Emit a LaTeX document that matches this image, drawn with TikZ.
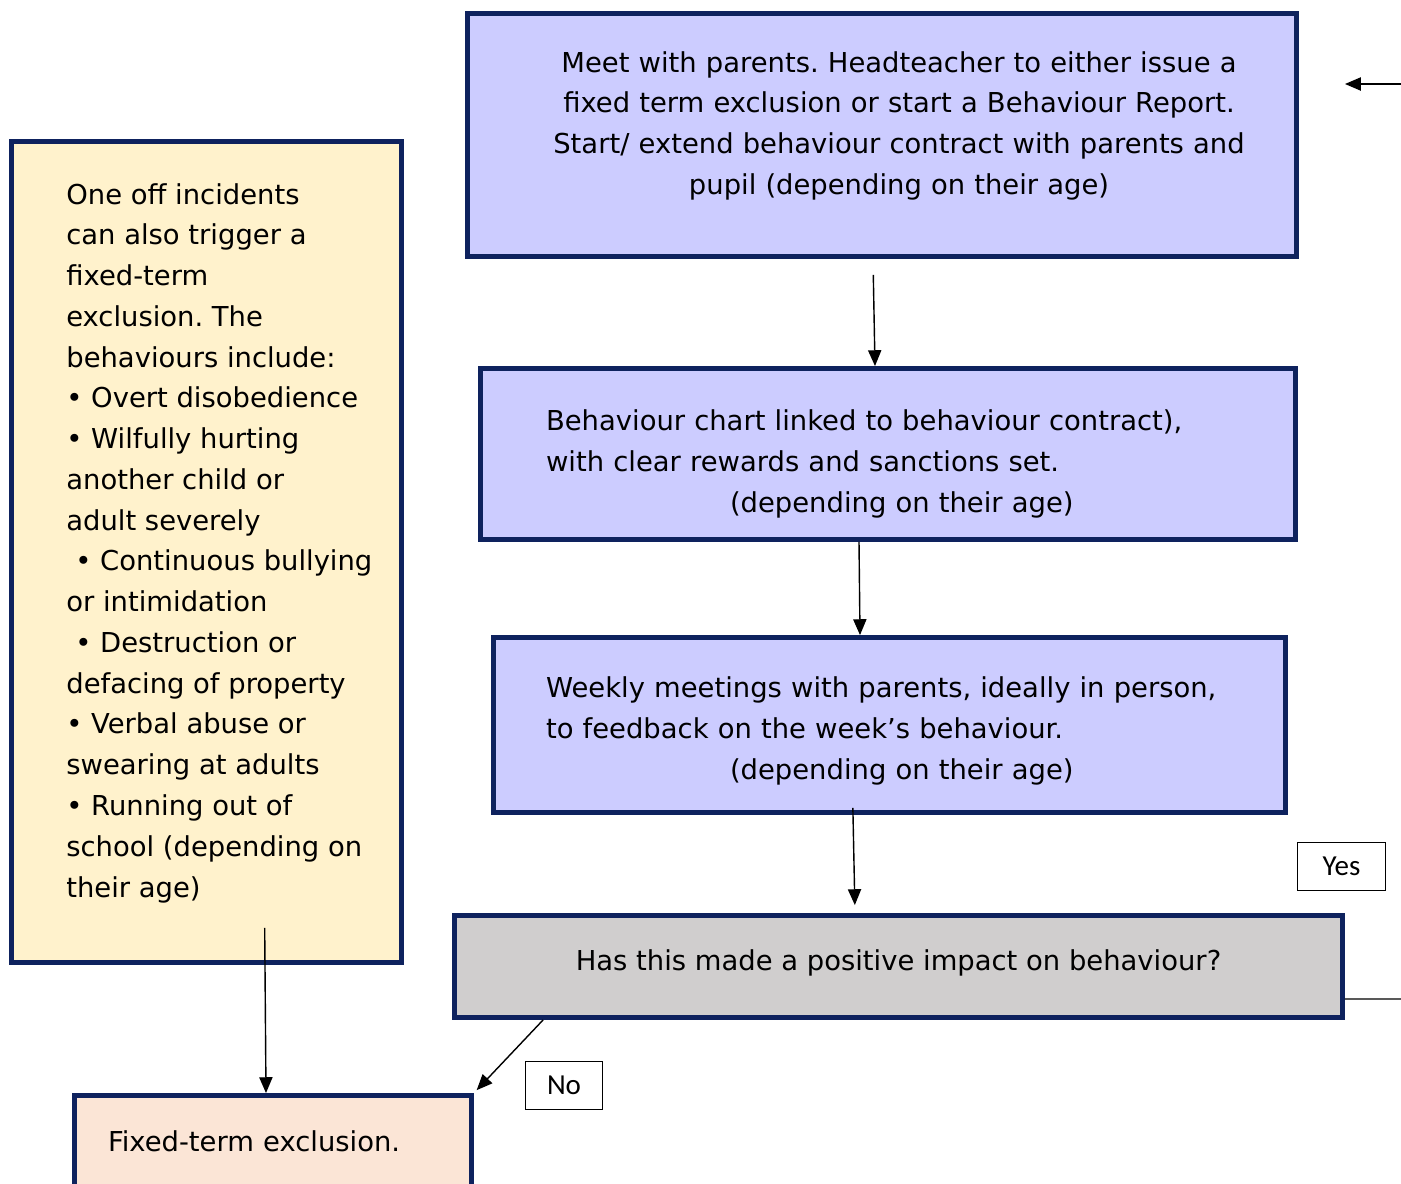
\documentclass[tikz,border=0pt]{standalone}
\usepackage{fontspec}
\setmainfont{DejaVu Sans}
\newfontfamily\answerfont{Carlito}
\usepackage{xcolor}
\usetikzlibrary{arrows.meta,positioning}
\frenchspacing

\definecolor{boxnavy}{RGB}{14,34,94}
\definecolor{lavender}{RGB}{204,204,255}
\definecolor{noteyellow}{RGB}{255,242,204}
\definecolor{askgrey}{RGB}{208,206,206}
\definecolor{peach}{RGB}{251,229,214}

\begin{document}
\begin{tikzpicture}[
  x=0.02cm, y=-0.02cm,
  box/.style={draw=boxnavy, line width=2.8pt, inner sep=0pt, font=\fontsize{15.6}{23.2}\selectfont},
  notetext/.style={inner sep=0pt, align=left, font=\fontsize{15.6}{23.2}\selectfont},
  answer/.style={draw, line width=0.8pt, inner sep=0pt, minimum height=0.96cm, font=\answerfont\fontsize{16.5}{18}\selectfont},
  link/.style={-{Triangle[length=9pt,width=7.5pt]}, line width=0.8pt}
]
\clip (0,0) rectangle (1401,1184);

\node[box, fill=lavender, minimum width=16.58cm, minimum height=4.86cm, text width=16.58cm, align=center] (meet) at (882,135)
  {\hspace*{0.68cm}Meet with parents. Headteacher to either issue a\\ \hspace*{0.68cm}fixed term exclusion or start a Behaviour Report.\\ \hspace*{0.68cm}Start/ extend behaviour contract with parents and\\ \hspace*{0.68cm}pupil (depending on their age)\rule[-0.49cm]{0pt}{0.49cm}};
\node[box, fill=lavender, minimum width=16.3cm, minimum height=3.42cm, text width=13.68cm, align=left] (chart) at (888,454)
  {\rule{0pt}{23.2pt}Behaviour chart linked to behaviour contract),\\ with clear rewards and sanctions set.\\ \hspace*{3.68cm}(depending on their age)};
\node[box, fill=lavender, minimum width=15.84cm, minimum height=3.5cm, text width=13.74cm, align=left] (weekly) at (889.5,725)
  {\rule{0pt}{18.7pt}Weekly meetings with parents, ideally in person,\\ to feedback on the week’s behaviour.\\ \hspace*{3.68cm}(depending on their age)};
\node[box, fill=askgrey, minimum width=17.76cm, minimum height=2.04cm] (impact) at (898.5,966.5)
  {\raisebox{0.25cm}{Has this made a positive impact on behaviour?}};

\node[box, fill=noteyellow, minimum width=7.8cm, minimum height=16.42cm] (oneoff) at (206.5,552) {};
\node[notetext, anchor=west] (oneofftext) at (66,543)
  {One off incidents\\ can also trigger a\\ fixed-term\\ exclusion. The\\ behaviours include:\\
   • Overt disobedience\\ • Wilfully hurting\\ another child or\\ adult severely\\
   \hspace*{0.18cm}• Continuous bullying\\ or intimidation\\ \hspace*{0.18cm}• Destruction or\\
   defacing of property\\ • Verbal abuse or\\ swearing at adults\\ • Running out of\\
   school (depending on\\ their age)};
\node[box, fill=peach, minimum width=7.94cm, minimum height=1.84cm, text width=6.6cm, align=left] (fixed) at (273,1141.5)
  {Fixed-term exclusion.};

\node[answer, minimum width=1.76cm] (yes) at (1341.5,866.5) {Yes};
\node[answer, minimum width=1.54cm] (no) at (564,1085.5) {No};

\coordinate (rightin) at (1401,84);
\coordinate (rightend) at (1345,84);
\coordinate (rightexit) at (1401,999);

\draw[link] (rightin) -- (rightend);
\draw[link, shorten <=0.32cm] ([xshift=-0.18cm]meet.south) -- ([xshift=-0.26cm]chart.north);
\draw[link] ([xshift=-0.58cm]chart.south) -- ([xshift=-0.59cm]weekly.north);
\draw[link, shorten <=-0.14cm, shorten >=0.16cm] ([xshift=-0.73cm]weekly.south) -- ([xshift=-0.87cm]impact.north);
\draw[link, shorten >=0.08cm] ([xshift=-7.11cm]impact.south) -- (fixed.north east);
\draw[link, shorten <=-0.74cm] ([xshift=1.17cm]oneoff.south) -- ([xshift=-0.14cm]fixed.north);
\draw[line width=0.8pt] ([yshift=-0.65cm]impact.east) -- (rightexit);
\end{tikzpicture}
\end{document}
